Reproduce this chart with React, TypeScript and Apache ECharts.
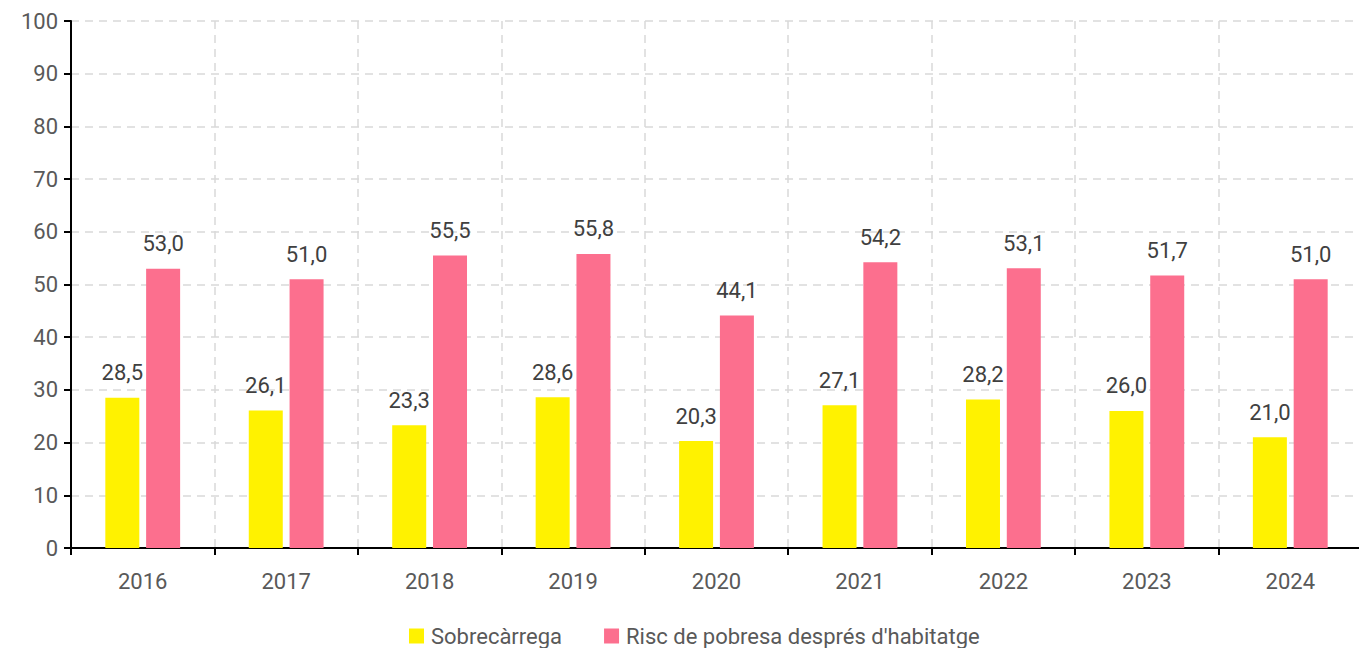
import React, { useEffect, useRef } from "react";
import * as echarts from "echarts";

const years = ["2016", "2017", "2018", "2019", "2020", "2021", "2022", "2023", "2024"];
const sobrecarrega = [28.5, 26.1, 23.3, 28.6, 20.3, 27.1, 28.2, 26.0, 21.0];
const riscPobresa = [53.0, 51.0, 55.5, 55.8, 44.1, 54.2, 53.1, 51.7, 51.0];
const seriesNames = ["Sobrecàrrega", "Risc de pobresa després d'habitatge"];

const FONT = "Roboto, 'Noto Sans', sans-serif";
const fmt = (p: any) => Number(p.value).toFixed(1).replace(".", ",");

export default function App() {
  const ref = useRef<HTMLDivElement>(null);
  useEffect(() => {
    if (!ref.current) return;
    const chart = echarts.init(ref.current, undefined, { renderer: "svg" });
    const label = {
      show: true,
      position: "top" as const,
      distance: 14,
      color: "#404040",
      fontSize: 22,
      fontFamily: FONT,
      formatter: fmt,
    };
    chart.setOption({
      animation: false,
      textStyle: { fontFamily: FONT },
      grid: { left: 71, right: 3, top: 21, bottom: 100, containLabel: false },
      legend: {
        bottom: -4,
        left: 404,
        itemWidth: 15,
        itemHeight: 15,
        itemGap: 42,
        icon: "rect",
        textStyle: { color: "#595959", fontSize: 22, fontFamily: FONT, padding: [0, 0, 0, 2] },
        data: seriesNames,
      },
      xAxis: {
        type: "category",
        data: years,
        axisLine: { lineStyle: { color: "#000", width: 2 } },
        axisTick: { show: true, length: 7, lineStyle: { color: "#000", width: 2 } },
        axisLabel: { color: "#595959", fontSize: 22, margin: 22 },
        splitLine: { show: true, lineStyle: { color: "#d9d9d9", type: [8, 6], width: 1.5 } },
      },
      yAxis: {
        type: "value",
        min: 0,
        max: 100,
        interval: 10,
        axisLine: { show: true, lineStyle: { color: "#000", width: 2 } },
        axisTick: { show: true, length: 7, lineStyle: { color: "#000", width: 2 } },
        axisLabel: { color: "#595959", fontSize: 22, margin: 13 },
        splitLine: { show: true, lineStyle: { color: "#d9d9d9", type: [8, 6], width: 1.5 } },
      },
      series: [
        {
          name: seriesNames[0],
          type: "bar",
          data: sobrecarrega,
          barWidth: 34,
          barGap: "20%",
          itemStyle: { color: "#FFF200" },
          label,
        },
        {
          name: seriesNames[1],
          type: "bar",
          data: riscPobresa,
          barWidth: 34,
          itemStyle: { color: "#FC6F8E" },
          label,
        },
      ],
    });
    return () => chart.dispose();
  }, []);
  return (
    <div
      ref={ref}
      style={{ position: "fixed", left: 0, top: 0, width: 1365, height: 648, background: "#fff" }}
    />
  );
}
